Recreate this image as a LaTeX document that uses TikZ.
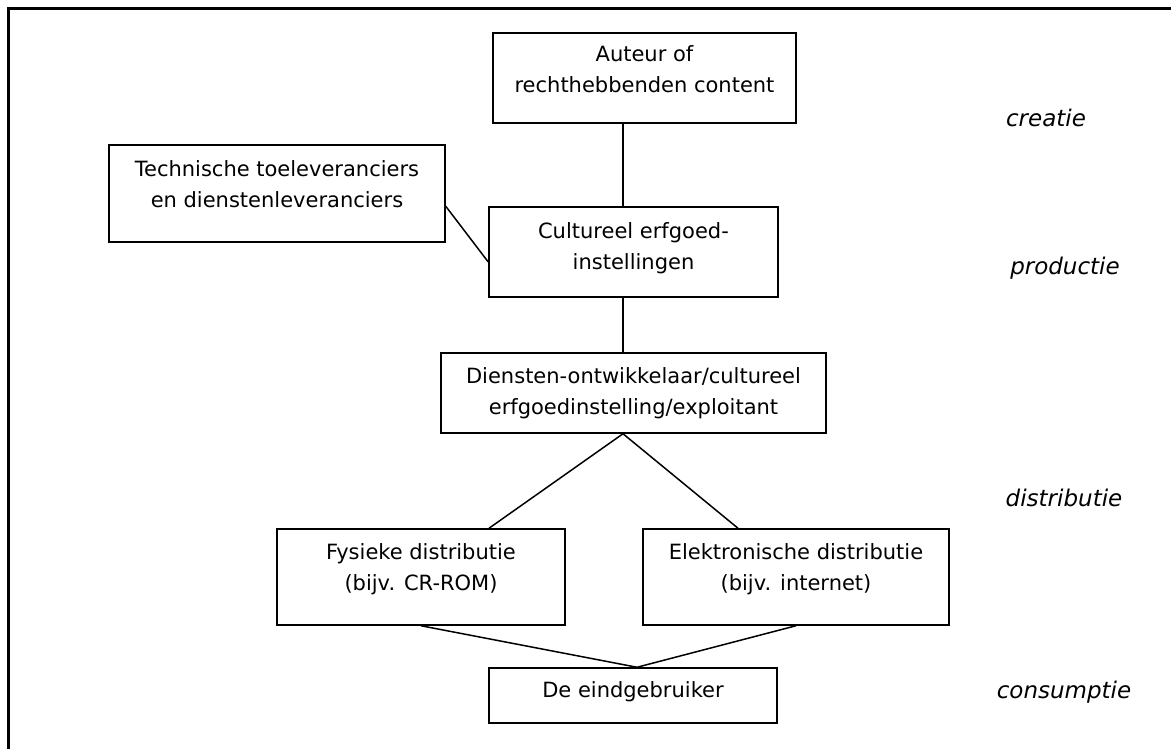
\documentclass[tikz,border=0pt]{standalone}
\usepackage{fontspec}
\setmainfont{DejaVu Sans}
\usepackage{tikz}

\newcommand{\ruimte}[1]{\rule[-#1]{0pt}{#1}}

\begin{document}
\begin{tikzpicture}[x=1pt,y=-1pt,
  blok/.style={draw, line width=1.5pt, align=center, inner sep=0pt,
    font=\fontsize{21}{31}\selectfont},
  lijn/.style={line width=1.5pt},
  fase/.style={font=\fontsize{23}{28}\selectfont\itshape}]
\useasboundingbox (0,0) rectangle (1171,749);
\draw[line width=3pt] (8.7,749) -- (8.7,8.7) -- (1171,8.7);

% de keten
\node[blok, minimum width=303pt, minimum height=90pt] (auteur) at (644.5,78)
  {Auteur of\\rechthebbenden content\ruimte{18pt}};
\node[blok, minimum width=336pt, minimum height=97pt] (tech) at (277,193.5)
  {Technische toeleveranciers\\en dienstenleveranciers\ruimte{19pt}};
\node[blok, minimum width=289pt, minimum height=90pt] (cult) at (633.5,252)
  {Cultureel erfgoed-\\instellingen\ruimte{11pt}};
\node[blok, minimum width=385pt, minimum height=80pt] (dienst) at (633.5,393)
  {Diensten-ontwikkelaar/cultureel\\erfgoedinstelling/exploitant};
\node[blok, minimum width=288pt, minimum height=96pt] (fys) at (421,577)
  {Fysieke distributie\\(bijv. CR-ROM)\ruimte{20pt}};
\node[blok, minimum width=306pt, minimum height=96pt] (elek) at (796,577)
  {Elektronische distributie\\(bijv. internet)\ruimte{20pt}};
\node[blok, minimum width=288pt, minimum height=55pt] (eind) at (633,695.5)
  {De eindgebruiker\ruimte{12pt}};

% fasen
\node[fase] (creatie) at (1046,118) {creatie};
\node[fase] (productie) at (1065,268) {productie};
\node[fase] (distributie) at (1064,498) {distributie};
\node[fase] (consumptie) at (1064,692) {consumptie};

% verbindingen
\coordinate (as) at (623,0);
\draw[lijn] (auteur.south -| as) -- (cult.north -| as);
\draw[lijn] (tech.east |- cult.north) -- ([yshift=-10pt]cult.west);
\draw[lijn] (cult.south -| as) -- (dienst.north -| as);
\draw[lijn] ([xshift=68pt]fys.north) -- (dienst.south -| as) -- ([xshift=-58pt]elek.north);
\draw[lijn] (fys.south) -- ([xshift=4pt]eind.north) -- (elek.south);
\end{tikzpicture}
\end{document}
